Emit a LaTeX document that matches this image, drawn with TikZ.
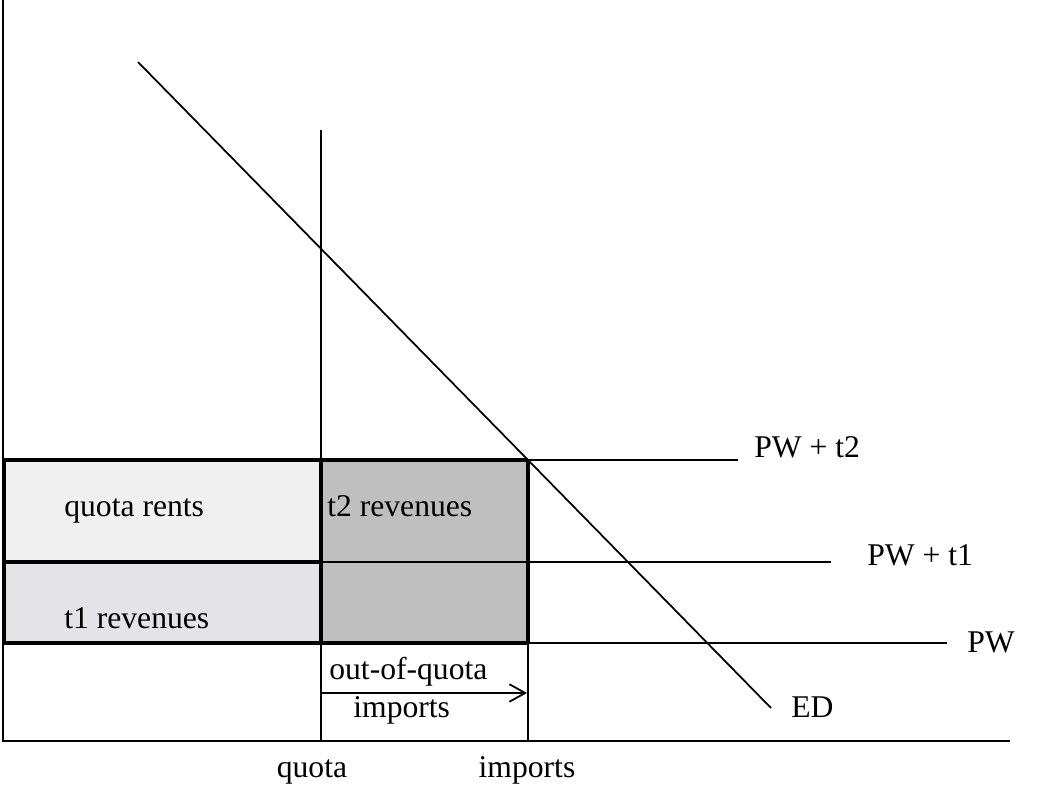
\documentclass[tikz,border=0pt]{standalone}
\usepackage{fontspec}
\setmainfont{Liberation Serif}
\usetikzlibrary{arrows.meta}
\begin{document}
\begin{tikzpicture}[x=0.02cm, y=-0.02cm, font=\fontsize{18}{21}\selectfont,
    thin line/.style={line width=1pt},
    box line/.style={line width=2pt},
    lbl/.style={anchor=base west, inner sep=0pt}]
    \useasboundingbox (0,0) rectangle (1039,787);
    % areas
    \fill[gray!12] (4,460) rectangle (321,562);
    \fill[blue!4!gray!20] (4,562) rectangle (321,643);
    \fill[gray!50] (321,460) rectangle (528,643);
    % axes
    \draw[line width=1.3pt] (3,0) -- (3,741) -- (1010,741);
    % price lines
    \draw[thin line] (4,460) -- (738,460);
    \draw[thin line] (4,562) -- (831,562);
    \draw[thin line] (4,643) -- (947,643);
    % quota and imports
    \draw[thin line] (321,130) -- (321,741);
    \draw[thin line] (528,460) -- (528,741);
    % excess demand
    \draw[thin line] (138,62) -- (771,708);
    % boxes
    \draw[box line] (4,460) rectangle (321,643);
    \draw[box line] (4,562) -- (321,562);
    \draw[box line] (528,460) -- (528,643);
    \draw[box line] (321,460) -- (528,460);
    \draw[box line] (321,643) -- (528,643);
    % labels
    \node[lbl] (pwt2) at (754,458) {PW + t2};
    \node[lbl] (pwt1) at (867,565) {PW + t1};
    \node[lbl] (pw) at (967,652) {PW};
    \node[lbl] (ed) at (791,717) {ED};
    \node[lbl] (rents) at (64,517) {quota rents};
    \node[lbl] (t2rev) at (327,517) {t2 revenues};
    \node[lbl] (t1rev) at (64,628) {t1 revenues};
    \node[lbl] (oq) at (329,679) {out-of-quota};
    \node[lbl] (oqimp) at (353,717) {imports};
    \node[anchor=base, inner sep=0pt] (quota) at (312,777) {quota};
    \node[anchor=base, inner sep=0pt] (imports) at (527,777) {imports};
    % out-of-quota arrow
    \coordinate (arrA) at (321,693);
    \coordinate (arrB) at (527,693);
    \draw[thin line, -{Straight Barb[length=9pt, width=10pt]}] (arrA) -- (arrB);
\end{tikzpicture}
\end{document}
